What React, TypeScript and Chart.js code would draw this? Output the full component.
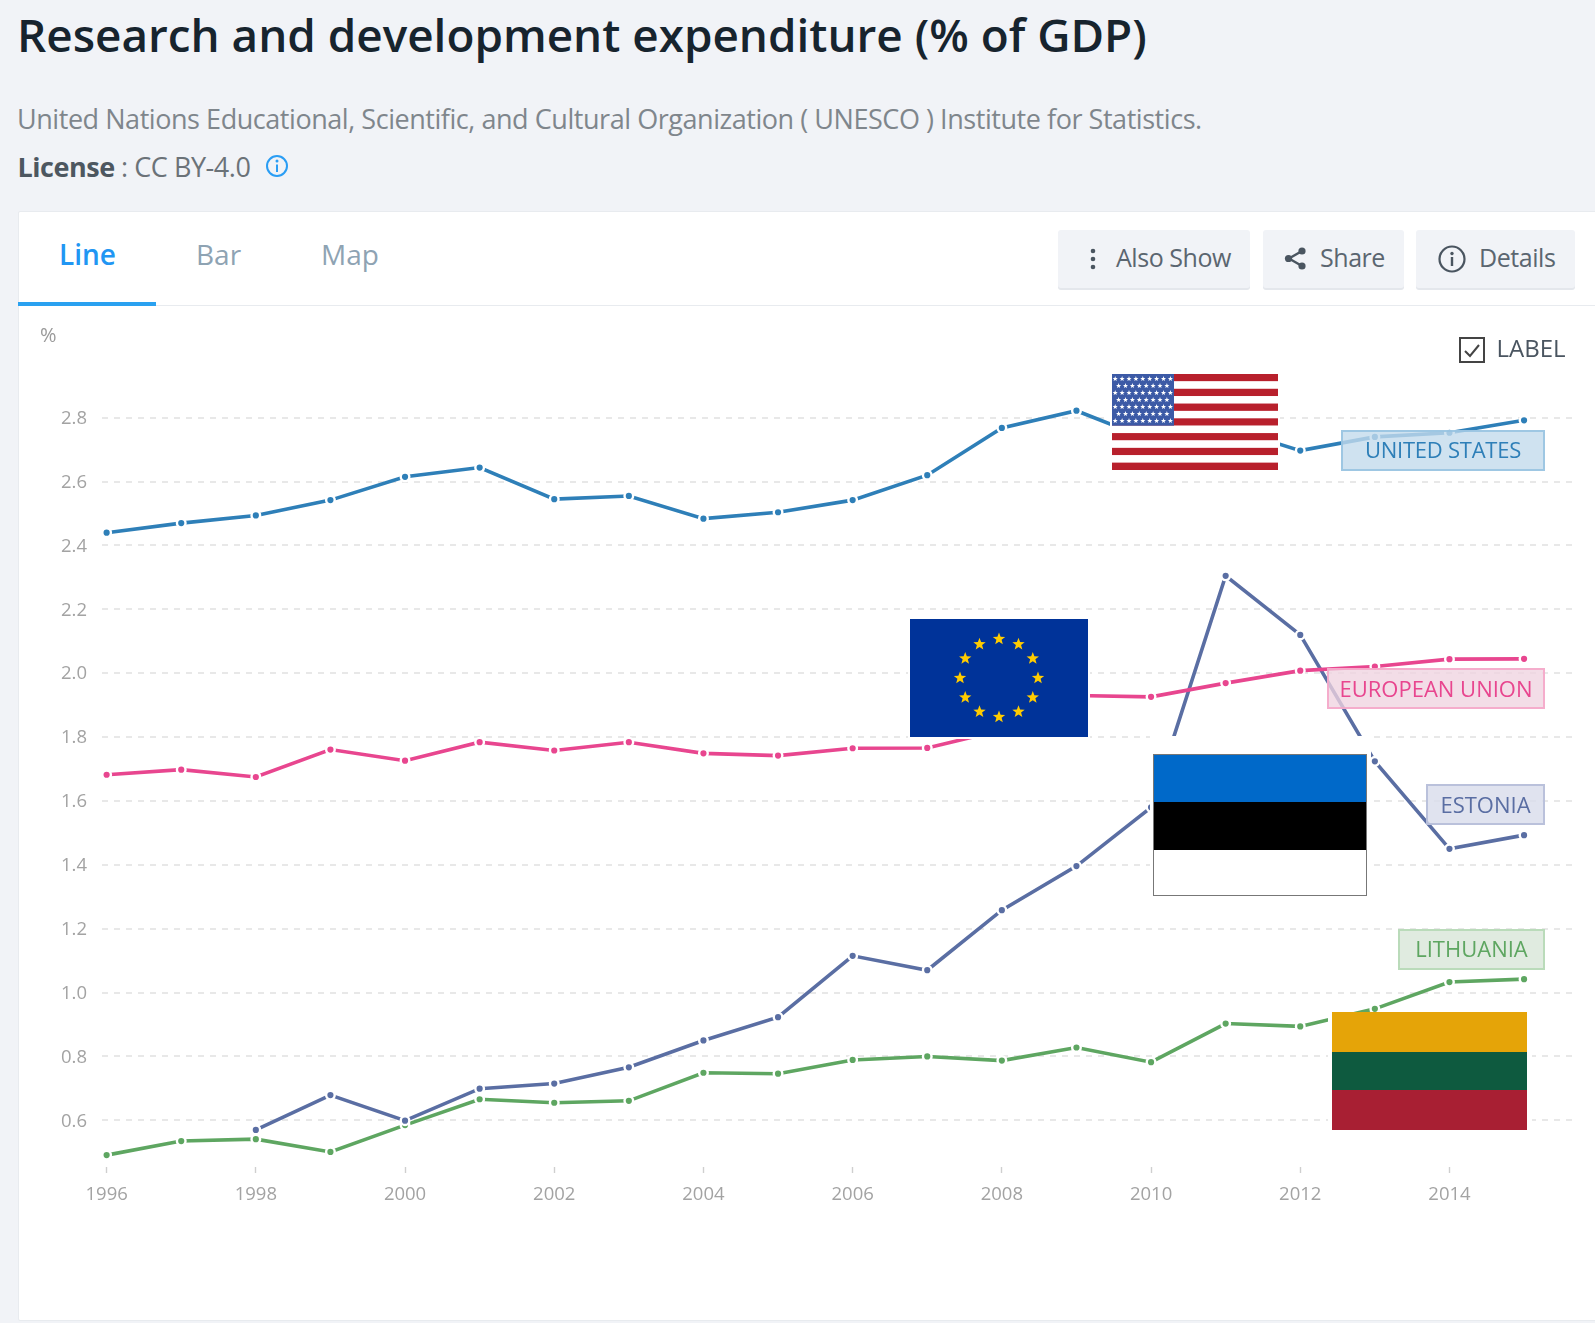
import React, { useEffect, useRef } from "react";
import { Chart, registerables } from "chart.js";

Chart.register(...registerables);

const years = [1996, 1997, 1998, 1999, 2000, 2001, 2002, 2003, 2004, 2005, 2006, 2007, 2008, 2009, 2010, 2011, 2012, 2013, 2014, 2015];
const unitedStates = [2.44, 2.47, 2.494, 2.542, 2.615, 2.644, 2.545, 2.555, 2.484, 2.504, 2.542, 2.62, 2.768, 2.822, 2.73, 2.77, 2.697, 2.74, 2.753, 2.792];
const europeanUnion = [1.682, 1.698, 1.675, 1.761, 1.726, 1.784, 1.758, 1.784, 1.749, 1.742, 1.765, 1.766, 1.822, 1.93, 1.926, 1.969, 2.008, 2.021, 2.044, 2.045];
const estonia = [null, null, 0.57, 0.679, 0.599, 0.699, 0.715, 0.766, 0.85, 0.923, 1.115, 1.07, 1.258, 1.396, 1.58, 2.305, 2.12, 1.724, 1.45, 1.493];
const lithuania = [0.491, 0.535, 0.541, 0.501, 0.585, 0.666, 0.655, 0.661, 0.749, 0.746, 0.789, 0.8, 0.787, 0.828, 0.782, 0.903, 0.894, 0.949, 1.033, 1.042];
const xTicks = [1996, 1998, 2000, 2002, 2004, 2006, 2008, 2010, 2012, 2014];
const yTicks = [0.6, 0.8, 1.0, 1.2, 1.4, 1.6, 1.8, 2.0, 2.2, 2.4, 2.6, 2.8];

const BLUE = "#2e7fb8";
const PINK = "#e8468f";
const SLATE = "#5a6ea3";
const GREEN = "#5ea661";

const FONT = '"Open Sans", sans-serif';

const T = (p: { x: number; y: number; size: number; color: string; weight?: number; text: string; spacing?: number }) => (
  <div
    style={{
      position: "absolute",
      left: p.x,
      top: p.y,
      transform: "translateY(-50%)",
      fontFamily: FONT,
      fontSize: p.size,
      color: p.color,
      fontWeight: p.weight || 400,
      lineHeight: 1.2,
      whiteSpace: "pre",
      letterSpacing: p.spacing || 0,
    }}
  >
    {p.text}
  </div>
);

function starPts(cx: number, cy: number, r: number) {
  const pts: string[] = [];
  for (let i = 0; i < 10; i++) {
    const a = -Math.PI / 2 + (i * Math.PI) / 5;
    const rr = i % 2 ? r * 0.42 : r;
    pts.push(`${(cx + rr * Math.cos(a)).toFixed(2)},${(cy + rr * Math.sin(a)).toFixed(2)}`);
  }
  return pts.join(" ");
}

const Box = (p: { l: number; t: number; r: number; b: number; children?: any; bg?: string }) => (
  <div style={{ position: "absolute", left: p.l, top: p.t, width: p.r - p.l, height: p.b - p.t, background: p.bg, overflow: "hidden" }}>{p.children}</div>
);

const UsFlag = () => {
  const W = 166.5;
  const H = 96;
  const sh = H / 13;
  const stripes = [];
  for (let i = 0; i < 13; i++) stripes.push(<rect key={i} x={0} y={i * sh} width={W} height={sh} fill={i % 2 ? "#ffffff" : "#b8202c"} />);
  const stars = [];
  const cw = 62;
  const ch = sh * 7;
  for (let r = 0; r < 7; r++) {
    const n = r % 2 ? 8 : 9;
    for (let c = 0; c < n; c++) {
      const x = 3.2 + (r % 2 ? 3.4 : 0) + c * 6.9;
      const y = 4.8 + r * 7;
      stars.push(<polygon key={`${r}-${c}`} points={starPts(x, y, 2.7)} fill="#fff" />);
    }
  }
  return (
    <svg width={W} height={H} style={{ position: "absolute", left: 1111.5, top: 374 }}>
      <rect x={0} y={0} width={W} height={H} fill="#fff" />
      {stripes}
      <rect width={cw} height={ch} fill="#3c5aa6" />
      {stars}
    </svg>
  );
};

const EuFlag = () => {
  const W = 178;
  const H = 118;
  const cx = W / 2;
  const cy = H / 2;
  const stars = [];
  for (let i = 0; i < 12; i++) {
    const a = (i * Math.PI) / 6;
    stars.push(<polygon key={i} points={starPts(cx + 39 * Math.sin(a), cy - 39 * Math.cos(a), 6.5)} fill="#ffcc00" />);
  }
  return (
    <svg width={W} height={H} style={{ position: "absolute", left: 910, top: 619 }}>
      <rect width={W} height={H} fill="#003399" />
      {stars}
    </svg>
  );
};

const seriesLabels = [
  { name: "UNITED STATES", color: BLUE, fill: "rgba(195,219,236,0.8)", line: "rgba(150,195,226,0.85)", l: 1341, t: 430, r: 1545, b: 471, sp: -0.25, pb: 3 },
  { name: "EUROPEAN UNION", color: PINK, fill: "rgba(240,212,224,0.78)", line: "rgba(246,165,200,0.85)", l: 1327, t: 668, r: 1545, b: 709, sp: 0, pb: 1 },
  { name: "ESTONIA", color: SLATE, fill: "rgba(216,220,235,0.8)", line: "rgba(180,188,216,0.85)", l: 1426, t: 784, r: 1545, b: 825, sp: 0, pb: 1 },
  { name: "LITHUANIA", color: GREEN, fill: "rgba(216,230,216,0.8)", line: "rgba(180,216,180,0.85)", l: 1398, t: 929, r: 1545, b: 970, sp: 0, pb: 3 },
];

const Btn = (p: { l: number; r: number }) => (
  <div style={{ position: "absolute", left: p.l, top: 230, width: p.r - p.l, height: 58, background: "#f1f3f7", borderRadius: 3, boxShadow: "0 2px 0 #e4e7ec" }} />
);

export default function App() {
  const ref = useRef<HTMLCanvasElement>(null);
  useEffect(() => {
    const mk = (label: string, data: any[], color: string) => ({
      label,
      data,
      borderColor: color,
      backgroundColor: color,
      borderWidth: 3.6,
      pointRadius: 4.3,
      pointBorderWidth: 2.4,
      pointBorderColor: "#ffffff",
      pointBackgroundColor: color,
      tension: 0,
      spanGaps: false,
    });
    const chart = new Chart(ref.current!, {
      type: "line",
      data: {
        labels: years,
        datasets: [
          mk("United States", years.map((y, i) => ({ x: y, y: unitedStates[i] })), BLUE),
          mk("European Union", years.map((y, i) => ({ x: y, y: europeanUnion[i] })), PINK),
          mk("Estonia", years.map((y, i) => ({ x: y, y: estonia[i] })), SLATE),
          mk("Lithuania", years.map((y, i) => ({ x: y, y: lithuania[i] })), GREEN),
        ],
      },
      options: {
        animation: false,
        responsive: false,
        layout: { padding: { top: 34, right: 22, bottom: 53, left: 0 } },
        plugins: { legend: { display: false }, tooltip: { enabled: false }, title: { display: false } },
        scales: {
          x: {
            type: "linear",
            min: 1995.938,
            max: 2015.656,
            afterFit: (s: any) => { s.height = 100; },
            afterBuildTicks: (s: any) => { s.ticks = xTicks.map((value) => ({ value })); },
            grid: { drawOnChartArea: false, drawTicks: true, tickLength: 6, tickColor: "#cfcfcf", tickWidth: 1.4 },
            border: { display: false },
            ticks: { callback: (v: any) => String(v), color: "#a3a3a3", font: { family: FONT, size: 18.5 }, padding: 11, maxRotation: 0, autoSkip: false },
          },
          y: {
            type: "linear",
            min: 0.4538,
            max: 3.0434,
            afterFit: (s: any) => { s.width = 84; },
            afterBuildTicks: (s: any) => { s.ticks = yTicks.map((value) => ({ value })); },
            grid: { color: "#e8e8e8", lineWidth: 2, drawTicks: false, tickLength: 0 },
            border: { display: false, dash: [6, 6] },
            ticks: { callback: (v: any) => Number(v).toFixed(1), color: "#a3a3a3", font: { family: FONT, size: 18.5 }, padding: 15, labelOffset: 1, autoSkip: false },
          },
        },
      } as any,
    });
    return () => chart.destroy();
  }, []);

  return (
    <div style={{ position: "absolute", left: 0, top: 0, width: 1595, height: 1323, background: "#f1f3f7", overflow: "hidden" }}>
      <T x={17} y={33.5} size={45.85} weight={600} color="#17242e" text="Research and development expenditure (% of GDP)" />
      <T x={17} y={119} size={27} color="#7f868c" spacing={-0.45} text="United Nations Educational, Scientific, and Cultural Organization ( UNESCO ) Institute for Statistics." />
      <T x={17.5} y={167} size={27} weight={700} color="#4d5760" spacing={-0.45} text="License" />
      <T x={121} y={167} size={27} color="#6b7278" spacing={-0.45} text=": CC BY-4.0" />
      <svg width={26} height={26} style={{ position: "absolute", left: 264, top: 153 }}>
        <circle cx={13} cy={13} r={10} fill="none" stroke="#2a9df4" strokeWidth={2} />
        <circle cx={13} cy={8} r={1.5} fill="#2a9df4" />
        <rect x={12} y={11.5} width={2} height={7.5} fill="#2a9df4" />
      </svg>

      <div style={{ position: "absolute", left: 18, top: 210.5, width: 1580, height: 1110.5, background: "#fff", border: "1px solid #e8ebef", borderRadius: 2, boxSizing: "border-box" }} />
      <div style={{ position: "absolute", left: 18, top: 304.5, width: 1577, height: 1.5, background: "#e8ebef" }} />
      <div style={{ position: "absolute", left: 18, top: 302, width: 138, height: 4, background: "#2aa1f0" }} />
      <T x={59} y={255} size={28} weight={600} color="#2196f3" text="Line" />
      <T x={196} y={255} size={28} color="#8ea3b3" text="Bar" />
      <T x={321} y={255} size={28} color="#8ea3b3" text="Map" />

      <Btn l={1058} r={1250} />
      <Btn l={1263} r={1404} />
      <Btn l={1416} r={1575} />
      <svg width={20} height={30} style={{ position: "absolute", left: 1083, top: 244 }}>
        <circle cx={10} cy={7} r={2.3} fill="#4a5560" />
        <circle cx={10} cy={15} r={2.3} fill="#4a5560" />
        <circle cx={10} cy={23} r={2.3} fill="#4a5560" />
      </svg>
      <T x={1116} y={257} size={25} color="#5b6670" spacing={-0.45} text="Also Show" />
      <svg width={26} height={28} style={{ position: "absolute", left: 1283, top: 245 }}>
        <path d="M19 6 L6 13.5 L19 21" fill="none" stroke="#4a5560" strokeWidth={2.4} />
        <circle cx={19} cy={6} r={3.6} fill="#4a5560" />
        <circle cx={5.5} cy={13.5} r={3.6} fill="#4a5560" />
        <circle cx={19} cy={21} r={3.6} fill="#4a5560" />
      </svg>
      <T x={1320} y={257} size={25} color="#5b6670" spacing={-0.45} text="Share" />
      <svg width={30} height={30} style={{ position: "absolute", left: 1437, top: 244 }}>
        <circle cx={15} cy={15} r={12.5} fill="none" stroke="#4a5560" strokeWidth={2.2} />
        <circle cx={15} cy={9.5} r={1.7} fill="#4a5560" />
        <rect x={13.8} y={13} width={2.4} height={9} fill="#4a5560" />
      </svg>
      <T x={1479} y={257} size={25} color="#5b6670" spacing={-0.45} text="Details" />

      <canvas ref={ref} width={1577} height={1014} style={{ position: "absolute", left: 18, top: 306, width: 1577, height: 1014 }} />

      <T x={40} y={335} size={20} color="#9a9a9a" text="%" />
      <div style={{ position: "absolute", left: 1459, top: 337, width: 26, height: 26, border: "2px solid #444", boxSizing: "border-box", background: "#fff" }} />
      <svg width={26} height={26} style={{ position: "absolute", left: 1459, top: 337 }}>
        <path d="M6 14 L11 19 L20 8" fill="none" stroke="#444" strokeWidth={2} />
      </svg>
      <T x={1496.5} y={348} size={24} color="#4a5560" text="LABEL" />

      <div style={{ position: "absolute", left: 1110, top: 372, width: 170, height: 100, background: "#fff" }} />
      <UsFlag />
      <div style={{ position: "absolute", left: 908, top: 617, width: 182, height: 122, background: "#fff" }} />
      <EuFlag />
      <div style={{ position: "absolute", left: 1150, top: 736, width: 221, height: 162, background: "#fff" }} />
      <div style={{ position: "absolute", left: 1153, top: 753.5, width: 214, height: 142.5, border: "1px solid #777", boxSizing: "border-box", overflow: "hidden" }}>
        <Box l={0} t={0} r={214} b={47} bg="#0069c9" />
        <Box l={0} t={47} r={214} b={95} bg="#000" />
        <Box l={0} t={95} r={214} b={143} bg="#fff" />
      </div>
      <div style={{ position: "absolute", left: 1328, top: 1012, width: 204, height: 122, background: "#fff" }} />
      <Box l={1332} t={1012} r={1527} b={1051.5} bg="#e5a408" />
      <Box l={1332} t={1051.5} r={1527} b={1090} bg="#0e5a3f" />
      <Box l={1332} t={1090} r={1527} b={1130} bg="#a81f33" />

      {seriesLabels.map((s) => (
        <div
          key={s.name}
          style={{
            position: "absolute",
            left: s.l,
            top: s.t,
            width: s.r - s.l,
            height: s.b - s.t,
            background: s.fill,
            border: `2px solid ${s.line}`,
            boxSizing: "border-box",
            color: s.color,
            fontFamily: FONT,
            fontSize: 22,
            letterSpacing: s.sp,
            paddingBottom: s.pb,
            display: "flex",
            alignItems: "center",
            justifyContent: "center",
            whiteSpace: "pre",
          }}
        >
          {s.name}
        </div>
      ))}
    </div>
  );
}
